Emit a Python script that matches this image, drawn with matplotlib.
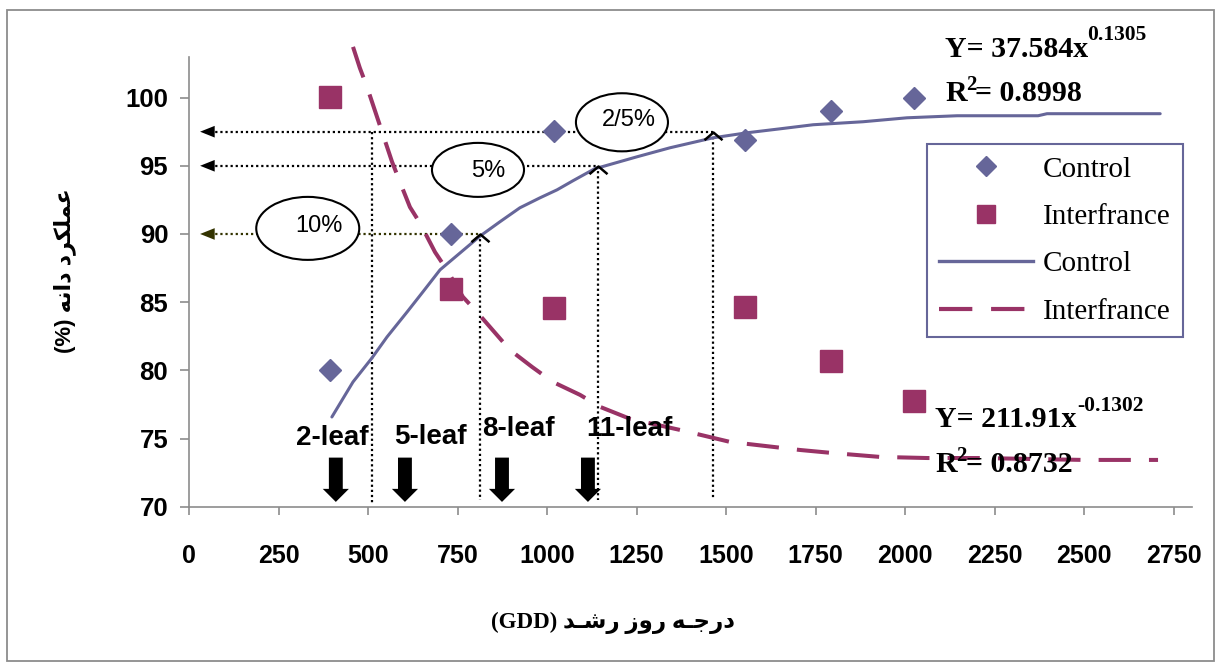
import numpy as np
import matplotlib
matplotlib.use("Agg")
import matplotlib.pyplot as plt
from matplotlib.patches import Ellipse, Rectangle
from matplotlib.lines import Line2D

# measured points (GDD, grain yield %)
gdd_points = [393, 732, 1019, 1553, 1793, 2025]
control_yield = [80.0, 90.0, 97.55, 96.9, 99.05, 100.0]
interf_yield = [100.05, 86.0, 84.55, 84.65, 80.7, 77.75]

# trend lines as drawn in the figure
control_fit_x = [399, 458, 511, 553, 609, 653, 701, 757, 813, 868, 924, 980, 1028,
                 1072, 1134, 1156, 1251, 1343, 1463, 1558, 1650, 1743, 1882, 2005,
                 2145, 2371, 2396, 2712]
control_fit_y = [76.58, 79.15, 80.91, 82.45, 84.28, 85.75, 87.37, 88.61, 89.85, 90.89,
                 91.92, 92.65, 93.24, 93.90, 94.80, 94.95, 95.66, 96.32, 97.05, 97.42,
                 97.71, 98.01, 98.23, 98.52, 98.67, 98.67, 98.82, 98.82]
interf_fit_x = [458, 477, 497, 525, 567, 598, 617, 645, 687, 720, 765, 804, 855, 896,
                958, 1016, 1092, 1148, 1232, 1371, 1511, 1706, 1796, 1930, 2061, 2209,
                2497, 2706]
interf_fit_y = [103.72, 102.18, 100.79, 98.59, 95.29, 93.22, 91.97, 90.80, 88.67, 87.37,
                85.38, 84.28, 82.74, 81.50, 80.25, 79.15, 78.20, 77.32, 76.44, 75.63,
                74.75, 74.16, 73.94, 73.65, 73.57, 73.57, 73.43, 73.43]

# yield loss thresholds and the GDD where they are reached
loss_levels = [90, 95, 97.5]
loss_gdd = [813, 1142, 1463]
loss_labels = ['10%', '5%', '2/5%']
loss_colors = ['#333300', 'black', 'black']
crit_start_gdd = 511

# leaf stages
leaf_labels = ['2-leaf', '5-leaf', '8-leaf', '11-leaf']
leaf_gdd = [410, 603, 874, 1114]

blue = '#666699'
red = '#993366'

W, H = 1222, 664
fig = plt.figure(figsize=(W / 100, H / 100), dpi=100)
ax = fig.add_axes([189 / W, 1 - 506.7 / H, 1002.7 / W, 450 / H])


def fpos(x, y):
    # pixel position -> figure fraction
    return x / W, 1 - y / H


fig.add_artist(Rectangle(fpos(7, 661), 1207 / W, 651 / H, transform=fig.transFigure,
                         fill=False, ec='#8c8c8c', lw=1.3))

ax.set_xlim(0, 2800)
ax.set_ylim(70, 103)
for s in ['top', 'right']:
    ax.spines[s].set_visible(False)
for s in ['left', 'bottom']:
    ax.spines[s].set_color('#8c8c8c')
    ax.spines[s].set_linewidth(1.2)
ax.set_xticks(np.arange(0, 2751, 250))
ax.set_yticks(np.arange(70, 101, 5))
ax.tick_params(axis='x', length=6, width=1.2, color='#8c8c8c', pad=21, labelsize=18)
ax.tick_params(axis='y', length=6.5, width=1.2, color='#8c8c8c', pad=8.5, labelsize=18.5)
for lbl in ax.get_xticklabels() + ax.get_yticklabels():
    lbl.set_fontfamily('Liberation Sans')
    lbl.set_fontweight('bold')

# trend lines
ax.plot(control_fit_x, control_fit_y, color=blue, lw=2.2, solid_capstyle='round', zorder=3)
ax.plot(interf_fit_x, interf_fit_y, color=red, lw=2.9, dashes=(8, 4.5), clip_on=False, zorder=3)

# measured points
ax.plot(gdd_points, control_yield, 'D', color=blue, ms=11.5, ls='none', clip_on=False, zorder=5)
ax.plot(gdd_points, interf_yield, 's', color=red, ms=15.5, ls='none', clip_on=False, zorder=5)

# threshold guides
caret = [(-1, -0.85), (0, 0), (1, -0.85)]
for lev, g, c in zip(loss_levels, loss_gdd, loss_colors):
    ax.plot([45, g], [lev, lev], color=c, lw=1.6, dashes=(1, 1.3), zorder=2)
    ax.annotate('', xy=(31, lev), xytext=(50, lev),
                arrowprops=dict(arrowstyle='-|>,head_length=0.7,head_width=0.28', color=c,
                                lw=0, shrinkA=0, shrinkB=0, mutation_scale=15))
    ax.plot([g, g], [lev, 70.5], color='black', lw=1.6, dashes=(1, 1.3), zorder=2, clip_on=False)
    ax.plot([g], [lev], marker=caret, ms=13, mfc='none', mec='black', mew=1.8, zorder=6)
ax.plot([crit_start_gdd, crit_start_gdd], [97.5, 70.3], color='black', lw=1.6,
        dashes=(1, 1.3), zorder=2)

# ellipses with loss labels
ell_xy = [(331.6, 90.41), (807, 94.70), (1209, 98.19)]
ell_wh = [(287.6, 4.62), (257, 3.96), (257, 4.26)]
txt_xy = [(364, 90.57), (836, 94.59), (1229, 98.37)]
for (ex, ey), (ew, eh), (tx, ty), lab in zip(ell_xy, ell_wh, txt_xy, loss_labels):
    ax.add_patch(Ellipse((ex, ey), ew, eh, facecolor='white', edgecolor='black', lw=1.5, zorder=4))
    ax.text(tx, ty, lab, ha='center', va='center', fontsize=17, family='Liberation Sans',
            zorder=7)

# leaf stage labels and arrows
leaf_text_x = [400, 674, 921, 1230]
leaf_text_y = [74.55, 74.6, 75.2, 75.2]
for lab, lx, ly in zip(leaf_labels, leaf_text_x, leaf_text_y):
    ax.text(lx, ly, lab, ha='center', va='baseline', fontsize=20, fontweight='bold',
            family='Liberation Sans', zorder=7)
for g in leaf_gdd:
    ax.annotate('', xy=(g, 70.35), xytext=(g, 73.6),
                arrowprops=dict(arrowstyle='simple,head_length=0.47,head_width=0.94,tail_width=0.5',
                                color='black', lw=0, shrinkA=0, shrinkB=0, mutation_scale=20))

# equations
eq_font = dict(family='Liberation Serif', fontweight='bold', color='black')
fig.text(*fpos(945, 57), 'Y= 37.584x', fontsize=21.5, va='baseline', **eq_font)
fig.text(*fpos(1087, 40), '0.1305', fontsize=15.5, va='baseline', **eq_font)
fig.text(*fpos(945, 101), 'R', fontsize=21.5, va='baseline', **eq_font)
fig.text(*fpos(966, 90), '2', fontsize=15, va='baseline', **eq_font)
fig.text(*fpos(975, 101), '= 0.8998', fontsize=21.5, va='baseline', **eq_font)

fig.text(*fpos(935, 427), 'Y= 211.91x', fontsize=21.5, va='baseline', **eq_font)
fig.text(*fpos(1077, 411), '-0.1302', fontsize=15.5, va='baseline', **eq_font)
fig.text(*fpos(935, 472), 'R', fontsize=21.5, va='baseline', **eq_font)
fig.text(*fpos(956, 461), '2', fontsize=15, va='baseline', **eq_font)
fig.text(*fpos(966, 472), '= 0.8732', fontsize=21.5, va='baseline', **eq_font)

# legend
handles = [Line2D([], [], ls='none', marker='D', color=blue, ms=10),
           Line2D([], [], ls='none', marker='s', color=red, ms=13),
           Line2D([], [], color=blue, lw=2.4),
           Line2D([], [], color=red, lw=3, dashes=(8, 4.5))]
leg = fig.legend(handles, ['Control', 'Interfrance', 'Control', 'Interfrance'],
                 loc='upper left', bbox_to_anchor=fpos(927, 144), bbox_transform=fig.transFigure,
                 frameon=True, fancybox=False, edgecolor=blue, framealpha=1, borderaxespad=0,
                 borderpad=0.42, handlelength=3.2, handletextpad=0.35, labelspacing=0.72,
                 prop={'family': 'Liberation Serif', 'size': 21})
leg.get_frame().set_linewidth(1.5)

# axis titles (Persian, shaped by hand into presentation forms, visual order)
xlab = '(GDD) ' + '\uFEAA\u0640\uFEB7\uFEAD' + ' ' + '\uFEAF\uFEED\uFEAD' + ' ' + '\uFEEA\u0640\uFE9F\uFEAD\uFEA9'
ylab = '(%) ' + '\uFEEA\uFEE7\uFE8D\uFEA9' + ' ' + '\uFEA9\uFEAE\uFEDC\uFEE0\uFEE4\uFECB'
fig.text(*fpos(613, 623), xlab, ha='center', va='center', fontsize=16.5, fontweight='bold',
         family=['Liberation Serif', 'DejaVu Sans'])
fig.text(*fpos(65, 271), ylab, ha='center', va='center', rotation=90, fontsize=16,
         fontweight='bold', family=['Liberation Sans', 'DejaVu Sans'])

fig.savefig('out.png', dpi=100)
